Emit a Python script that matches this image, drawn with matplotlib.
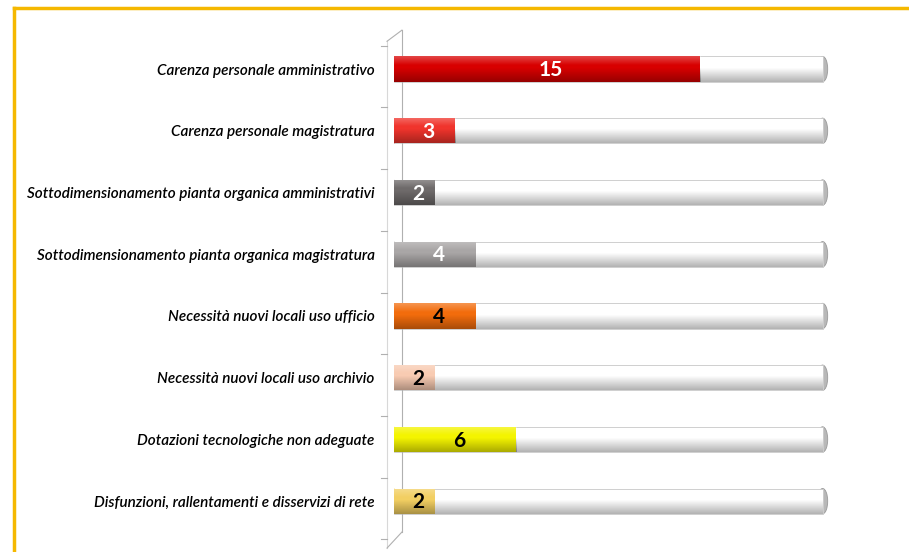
import matplotlib.pyplot as plt
import numpy as np
from matplotlib.lines import Line2D
from matplotlib.patches import Ellipse

categories = ['Carenza personale amministrativo',
              'Carenza personale magistratura',
              'Sottodimensionamento pianta organica amministrativi',
              'Sottodimensionamento pianta organica magistratura',
              'Necessità nuovi locali uso ufficio',
              'Necessità nuovi locali uso archivio',
              'Dotazioni tecnologiche non adeguate',
              'Disfunzioni, rallentamenti e disservizi di rete']
values = [15, 3, 2, 4, 4, 2, 6, 2]
total = 21
bar_colors = ['#d80000', '#f0342c', '#6e6a6a', '#a9a6a6',
              '#f26c0c', '#f8cbb2', '#f4f400', '#f2cf62']
text_colors = ['white', 'white', 'white', 'white',
               'black', 'black', 'black', 'black']

plt.rcParams['font.family'] = ['Lato', 'DejaVu Sans']

fig = plt.figure(figsize=(9.09, 5.52), dpi=100)
ax = fig.add_axes([0.4334, 0.025, 0.494, 0.917])

y = np.arange(len(categories))
h = 0.41

# shading overlay: light at top, darker at bottom
shade = np.zeros((64, 1, 4))
t = np.linspace(0, 1, 64)
shade[:, 0, 3] = np.clip((t - 0.45) * 0.55, 0, None)
hl = np.zeros((64, 1, 4))
hl[:, 0, :3] = 1
hl[:, 0, 3] = np.clip(0.35 - t, 0, None) * 0.8

# background tubes
for i in y:
    ax.add_patch(Ellipse((total, i), 0.5, h, facecolor='#b8b8b8',
                         edgecolor='#9a9a9a', lw=0.6, zorder=1))
bg = ax.barh(y, [total] * len(y), height=h, color='white',
             edgecolor='#c8c8c8', linewidth=0.6, zorder=2)
for b in bg:
    x0, y0 = b.get_x(), b.get_y()
    im = ax.imshow(shade, extent=(x0, x0 + b.get_width(), y0 + h, y0),
                   aspect='auto', zorder=3, interpolation='bilinear')
    im.set_clip_path(b)

# value bars
for i, (v, c) in enumerate(zip(values, bar_colors)):
    ax.add_patch(Ellipse((0, i), 0.35, h, facecolor=c, edgecolor='none', zorder=4))
bars = ax.barh(y, values, height=h, color=bar_colors, zorder=5)
for b in bars:
    x0, y0 = b.get_x(), b.get_y()
    for g in (shade, hl):
        im = ax.imshow(g, extent=(x0, x0 + b.get_width(), y0 + h, y0),
                       aspect='auto', zorder=6, interpolation='bilinear')
        im.set_clip_path(b)

for i, v in enumerate(values):
    ax.text(v / 2 + 0.2, i + 0.02, str(v), ha='center', va='center',
            fontsize=15, fontweight='bold', color=text_colors[i], zorder=7)

ax.set_xlim(0, 22)
ax.set_ylim(7.6, -0.6)
ax.set_yticks(y)
labels = ax.set_yticklabels(categories, fontsize=14, style='italic',
                            fontweight='semibold')
ax.tick_params(axis='y', length=0, pad=14)
ax.set_xticks([])
for s in ax.spines.values():
    s.set_visible(False)

# fit the longest label to the room on the left (about 350 px)
fig.canvas.draw()
r = fig.canvas.get_renderer()
widest = max(l.get_window_extent(r).width for l in labels)
if widest > 350:
    for l in labels:
        l.set_fontsize(14 * 350 / widest)

# 3d wall edges
wall = '#b0b0b0'
ax.plot([0.39, 0.39], [-0.63, 7.5], color=wall, lw=0.8, clip_on=False)
ax.plot([-0.34, -0.34], [-0.45, 7.76], color='#d8d8d8', lw=0.8, clip_on=False)
ax.plot([-0.34, 0.39], [-0.45, -0.63], color=wall, lw=0.8, clip_on=False)
ax.plot([-0.34, 0.39], [7.76, 7.5], color=wall, lw=0.8, clip_on=False)
for k in range(len(categories) + 1):
    ax.plot([-0.62, -0.34], [k - 0.38, k - 0.38], color=wall, lw=0.8, clip_on=False)

# golden frame
fig.add_artist(Line2D([14 / 909, 1], [1 - 8 / 552, 1 - 8 / 552],
                      color='#f5b800', lw=2.5))
fig.add_artist(Line2D([14 / 909, 14 / 909], [0, 1 - 8 / 552],
                      color='#f5b800', lw=2.5))

fig.savefig('out.png', dpi=100)
